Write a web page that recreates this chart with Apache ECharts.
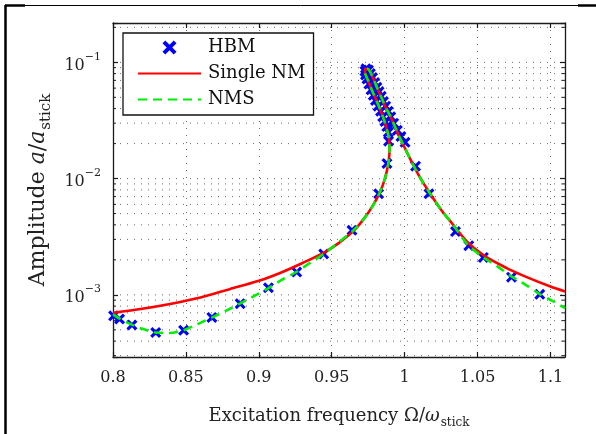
<!DOCTYPE html>
<html><head><meta charset="utf-8">
<script src="https://cdn.jsdelivr.net/npm/echarts@6/dist/echarts.min.js"></script>
<style>html,body{margin:0;padding:0;background:#fff}#c{width:596px;height:434px}</style>
</head><body><div id="c"></div>
<script>
// ---- data ----
const xTicks = [0.8, 0.85, 0.9, 0.95, 1, 1.05, 1.1];
const yMajor = [1e-3, 1e-2, 1e-1];
const yMinor = [3e-4,4e-4,5e-4,6e-4,7e-4,8e-4,9e-4,
                2e-3,3e-3,4e-3,5e-3,6e-3,7e-3,8e-3,9e-3,
                2e-2,3e-2,4e-2,5e-2,6e-2,7e-2,8e-2,9e-2,2e-1];
const hbm = [[0.8004,6.6e-4],[0.8045,6.2e-4],[0.813,5.5e-4],[0.8293,4.75e-4],[0.8484,4.96e-4],[0.8678,6.4e-4],[0.8872,8.4e-4],[0.9066,1.15e-3],[0.926,1.57e-3],[0.9445,2.25e-3],[0.9639,3.6e-3],[0.9822,7.4e-3],[0.9879,1.35e-2],[0.9890,2.1e-2],[0.9888,2.5e-2],[0.9878,2.8e-2],[0.9865,3.1e-2],[0.9850,3.4e-2],[0.9835,3.8e-2],[0.9818,4.2e-2],[0.9800,4.7e-2],[0.9785,5.2e-2],[0.9770,5.8e-2],[0.9755,6.5e-2],[0.9742,7.2e-2],[0.9732,7.8e-2],[0.9728,8.4e-2],[0.9735,8.8e-2],[0.9752,8.6e-2],[0.9765,8.0e-2],[0.9780,7.4e-2],[0.9795,6.7e-2],[0.9810,6.1e-2],[0.9825,5.6e-2],[0.9840,5.1e-2],[0.9855,4.6e-2],[0.9870,4.2e-2],[0.9888,3.8e-2],[0.9905,3.4e-2],[0.9925,3.0e-2],[0.9950,2.6e-2],[0.9975,2.3e-2],[1.0003,2.05e-2],[1.0075,1.28e-2],[1.0167,7.4e-3],[1.0349,3.5e-3],[1.0440,2.65e-3],[1.0540,2.1e-3],[1.0733,1.42e-3],[1.0927,1.01e-3]];
const singleNM = [[0.800,7.0e-4],[0.820,7.6e-4],[0.840,8.4e-4],[0.860,9.5e-4],[0.880,1.12e-3],[0.900,1.32e-3],[0.915,1.55e-3],[0.930,1.88e-3],[0.945,2.32e-3],[0.955,2.80e-3],[0.965,3.55e-3],[0.972,4.5e-3],[0.978,5.8e-3],[0.983,7.6e-3],[0.9865,1.0e-2],[0.9888,1.35e-2],[0.9897,1.75e-2],[0.9893,2.2e-2],[0.9880,2.6e-2],[0.9855,3.3e-2],[0.9830,4.0e-2],[0.9800,4.9e-2],[0.9770,6.0e-2],[0.9745,7.2e-2],[0.9728,8.2e-2],[0.9730,8.8e-2],[0.9752,8.7e-2],[0.9780,7.5e-2],[0.9810,6.1e-2],[0.9840,5.0e-2],[0.9870,4.1e-2],[0.9904,3.4e-2],[0.9950,2.5e-2],[1.0000,1.85e-2],[1.0050,1.38e-2],[1.0100,1.05e-2],[1.0170,7.6e-3],[1.0250,5.4e-3],[1.0330,4.05e-3],[1.0430,2.85e-3],[1.0550,2.15e-3],[1.0700,1.70e-3],[1.0850,1.40e-3],[1.1000,1.18e-3],[1.1100,1.07e-3]];
const nms = [[0.800,6.8e-4],[0.805,6.2e-4],[0.812,5.6e-4],[0.820,5.1e-4],[0.829,4.75e-4],[0.838,4.7e-4],[0.848,4.95e-4],[0.858,5.6e-4],[0.868,6.4e-4],[0.878,7.35e-4],[0.887,8.4e-4],[0.897,9.8e-4],[0.907,1.15e-3],[0.916,1.35e-3],[0.926,1.58e-3],[0.935,1.88e-3],[0.945,2.27e-3],[0.955,2.85e-3],[0.965,3.6e-3],[0.972,4.5e-3],[0.978,5.8e-3],[0.983,7.6e-3],[0.9865,1.0e-2],[0.9888,1.35e-2],[0.9897,1.75e-2],[0.9893,2.2e-2],[0.9880,2.6e-2],[0.9855,3.3e-2],[0.9830,4.0e-2],[0.9800,4.9e-2],[0.9770,6.0e-2],[0.9745,7.2e-2],[0.9728,8.2e-2],[0.9730,8.8e-2],[0.9752,8.7e-2],[0.9780,7.5e-2],[0.9810,6.1e-2],[0.9840,5.0e-2],[0.9870,4.1e-2],[0.9904,3.4e-2],[0.9950,2.5e-2],[1.0000,1.85e-2],[1.0050,1.38e-2],[1.0100,1.05e-2],[1.0170,7.6e-3],[1.0250,5.4e-3],[1.0330,4.05e-3],[1.0430,2.72e-3],[1.0540,2.1e-3],[1.0630,1.78e-3],[1.0730,1.45e-3],[1.0830,1.22e-3],[1.0930,1.01e-3],[1.1020,8.8e-4],[1.1100,7.7e-4]];

// ---- config ----
const X_MIN = 0.8, X_MAX = 1.11, Y_MIN = 2.92e-4, Y_MAX = 0.218;
const FONT = 'DejaVu Serif';
const TXT = '#222';
const AXIS_COLOR = '#1a1a1a';
const GRID_COLOR = '#6a6a6a';
const xMarker = 'path://M0,4 L4,0 L10,6 L16,0 L20,4 L14,10 L20,16 L16,20 L10,14 L4,20 L0,16 L6,10 Z';

const chart = echarts.init(document.getElementById('c'), null, {renderer: 'canvas'});

function isTick(v) { return xTicks.some(t => Math.abs(t - v) < 1e-9); }
const gridData = yMajor.map(v => [X_MIN, v, 1]).concat(yMinor.map(v => [X_MIN, v, 0]));

function titleRich(fs, ss) {
  return {
    n: {fontFamily: FONT, fontSize: fs, color: TXT, lineHeight: fs + 6, verticalAlign: 'bottom'},
    i: {fontFamily: FONT, fontSize: fs, fontStyle: 'italic', color: TXT, lineHeight: fs + 6, verticalAlign: 'bottom'},
    s: {fontFamily: FONT, fontSize: ss, color: TXT, lineHeight: ss, verticalAlign: 'bottom', padding: [0, 0, -4, 1]}
  };
}

const option = {
  backgroundColor: '#fff',
  animation: false,
  textStyle: {fontFamily: FONT},
  grid: {left: 113, right: 31, top: 23, bottom: 71},
  graphic: [
    {type: 'line', shape: {x1: 5, y1: 5.5, x2: 596, y2: 5.5}, style: {stroke: '#000', lineWidth: 1}, z: 100},
    {type: 'line', shape: {x1: 5, y1: 5.5, x2: 25, y2: 5.5}, style: {stroke: '#000', lineWidth: 2.5}, z: 100},
    {type: 'line', shape: {x1: 578, y1: 5.5, x2: 596, y2: 5.5}, style: {stroke: '#000', lineWidth: 2.5}, z: 100},
    {type: 'line', shape: {x1: 5.5, y1: 5, x2: 5.5, y2: 434}, style: {stroke: '#000', lineWidth: 2.5}, z: 100}
  ],
  legend: {
    left: 123, top: 33,
    orient: 'vertical',
    backgroundColor: '#fff',
    borderColor: '#111', borderWidth: 1.3, borderRadius: 0,
    padding: [5, 8, 6, 14],
    itemWidth: 63, itemHeight: 14, itemGap: 7,
    textStyle: {fontFamily: FONT, fontSize: 18, color: '#111', lineHeight: 19, padding: [0, 0, 0, 2]},
    data: [
      {name: 'HBM'},
      {name: 'Single NM', itemStyle: {opacity: 0}},
      {name: 'NMS', itemStyle: {opacity: 0}}
    ],
    selectedMode: false
  },
  xAxis: [{
    type: 'value', min: X_MIN, max: X_MAX, interval: 0.05, position: 'bottom',
    axisLine: {show: true, onZero: false, lineStyle: {color: AXIS_COLOR, width: 1.3}},
    axisTick: {show: true, inside: true, length: 5, lineStyle: {color: AXIS_COLOR, width: 1.2}},
    axisLabel: {fontFamily: FONT, fontSize: 16, color: TXT, margin: 13, showMaxLabel: false,
      formatter: v => isTick(v) ? String(+v.toFixed(2)) : ''},
    splitLine: {show: true, lineStyle: {color: GRID_COLOR, width: 1, type: [1, 6]}},
    name: '{n|Excitation frequency Ω/}{i|ω}{s|stick}',
    nameLocation: 'middle', nameGap: 44,
    nameTextStyle: {rich: titleRich(18, 12)}
  }, {
    type: 'value', min: X_MIN, max: X_MAX, interval: 0.05, position: 'top',
    axisLine: {show: true, onZero: false, lineStyle: {color: AXIS_COLOR, width: 1.3}},
    axisTick: {show: true, inside: true, length: 5, lineStyle: {color: AXIS_COLOR, width: 1.2}},
    axisLabel: {show: false}, splitLine: {show: false}
  }],
  yAxis: [{
    type: 'log', logBase: 10, min: Y_MIN, max: Y_MAX, position: 'left',
    axisLine: {show: true, onZero: false, lineStyle: {color: AXIS_COLOR, width: 1.3}},
    axisTick: {show: true, inside: true, length: 5, lineStyle: {color: AXIS_COLOR, width: 1.2}},
    axisLabel: {margin: 12, formatter: v => {
      const e = Math.log10(v), r = Math.round(e);
      if (Math.abs(e - r) > 1e-6) return '';
      return '{b|10}{s|' + (r < 0 ? '\u2212' : '') + Math.abs(r) + '}';
    }, rich: {
      b: {fontFamily: FONT, fontSize: 16, color: TXT, lineHeight: 22, verticalAlign: 'bottom'},
      s: {fontFamily: FONT, fontSize: 11, color: TXT, lineHeight: 22, verticalAlign: 'top'}
    }},
    splitLine: {show: false},
    name: '{n|Amplitude }{i|a}{n|/}{i|a}{s|stick}',
    nameLocation: 'middle', nameGap: 62, nameRotate: 90,
    nameTextStyle: {rich: titleRich(22, 15)}
  }, {
    type: 'log', logBase: 10, min: Y_MIN, max: Y_MAX, position: 'right',
    axisLine: {show: true, onZero: false, lineStyle: {color: AXIS_COLOR, width: 1.3}},
    axisTick: {show: true, inside: true, length: 5, lineStyle: {color: AXIS_COLOR, width: 1.2}},
    axisLabel: {show: false}, splitLine: {show: false}
  }],
  series: [
    {
      type: 'custom', name: 'grid', silent: true, z: 0,
      data: gridData,
      renderItem: (params, api) => {
        const y = api.value(1), major = api.value(2);
        const p1 = api.coord([X_MIN, y]), p2 = api.coord([X_MAX, y]);
        const children = [{type: 'line', shape: {x1: p1[0], y1: p1[1], x2: p2[0], y2: p2[1]},
          style: {stroke: GRID_COLOR, lineWidth: 1, lineDash: [1, 6]}}];
        if (!major) {
          children.push({type: 'line', shape: {x1: p1[0], y1: p1[1], x2: p1[0] + 3, y2: p1[1]}, style: {stroke: AXIS_COLOR, lineWidth: 1}});
          children.push({type: 'line', shape: {x1: p2[0] - 3, y1: p2[1], x2: p2[0], y2: p2[1]}, style: {stroke: AXIS_COLOR, lineWidth: 1}});
        }
        return {type: 'group', children};
      }
    },
    {
      name: 'HBM', type: 'scatter', data: hbm, z: 3,
      symbol: xMarker, symbolSize: 11,
      itemStyle: {color: '#0000ff', opacity: 1}
    },
    {
      name: 'Single NM', type: 'line', data: singleNM, z: 4, smooth: 0.3,
      symbol: 'none', showSymbol: false,
      lineStyle: {color: '#ff0000', width: 2.6},
      itemStyle: {color: '#ff0000'}
    },
    {
      name: 'NMS', type: 'line', data: nms, z: 5, smooth: 0.3,
      symbol: 'none', showSymbol: false,
      lineStyle: {color: '#00ee00', width: 2.6, type: [9, 6]},
      itemStyle: {color: '#00ee00'}
    }
  ]
};
chart.setOption(option);
</script>
</body></html>
